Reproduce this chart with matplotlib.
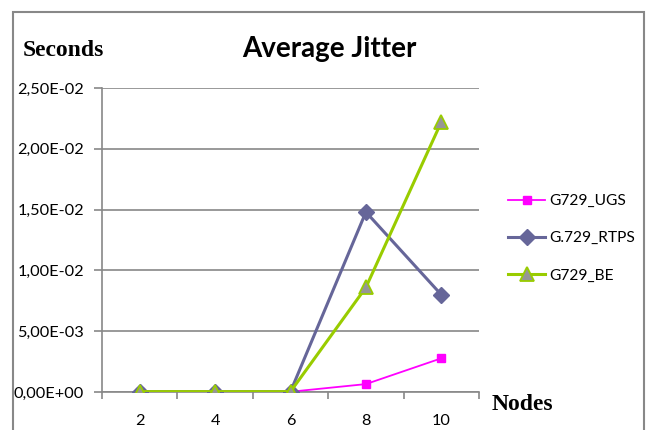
import matplotlib
matplotlib.use("Agg")
import matplotlib.pyplot as plt
from matplotlib.patches import Rectangle
from matplotlib.ticker import FixedLocator, NullFormatter

categories = ["2", "4", "6", "8", "10"]
ugs = [0.00002, 0.00002, 0.00002, 0.00065, 0.00277]
rtps = [0.00003, 0.00003, 0.00003, 0.0148, 0.0080]
be = [0.00003, 0.00003, 0.00003, 0.0086, 0.0222]
yticks = [0.0, 0.005, 0.010, 0.015, 0.020, 0.025]
ytick_labels = ["0,00E+00", "5,00E-03", "1,00E-02", "1,50E-02", "2,00E-02", "2,50E-02"]

W, H = 652, 430
fig = plt.figure(figsize=(W / 100, H / 100), dpi=100)
fig.patch.set_facecolor("white")

# outer chart frame
frame = Rectangle((13 / W, -0.05), (644 - 13) / W, (H - 12) / H + 0.05,
                  transform=fig.transFigure, fill=False,
                  edgecolor="#888888", linewidth=1.5, zorder=0)
fig.add_artist(frame)

ax = fig.add_axes([102 / W, (H - 392) / H, (479 - 102) / W, (392 - 88) / H])
x = list(range(1, len(categories) + 1))

ax.plot(x, ugs, color="#FF00FF", linewidth=1.3, marker="s", markersize=6,
        markerfacecolor="#FF00FF", markeredgecolor="#FF00FF", label="G729_UGS", zorder=3)
ax.plot(x, rtps, color="#666699", linewidth=2.2, marker="D", markersize=8,
        markerfacecolor="#666699", markeredgecolor="#666699", label="G.729_RTPS", zorder=4)
ax.plot(x, be, color="#99CC00", linewidth=2.2, marker="^", markersize=10,
        markerfacecolor="#969696", markeredgecolor="#99CC00", markeredgewidth=1.3,
        label="G729_BE", zorder=5)

ax.set_xlim(0.5, len(categories) + 0.5)
ax.set_ylim(0, 0.025)

ax.set_yticks(yticks)
ax.set_yticklabels(ytick_labels, fontfamily="Lato", fontsize=11.7)
ax.yaxis.grid(True, color="#888888", linewidth=1.2)
ax.set_axisbelow(True)

ax.xaxis.set_major_locator(FixedLocator([i + 0.5 for i in range(0, len(categories) + 1)]))
ax.xaxis.set_major_formatter(NullFormatter())
ax.xaxis.set_minor_locator(FixedLocator(x))
ax.set_xticklabels(categories, minor=True, fontfamily="Lato", fontsize=11.7)
ax.tick_params(axis="x", which="major", length=5, color="#888888", width=1.2, direction="out")
ax.tick_params(axis="x", which="minor", length=0, pad=16)
ax.tick_params(axis="y", length=6, color="#888888", width=1.2, pad=7)

for s in ["top", "right"]:
    ax.spines[s].set_visible(False)
for s in ["left", "bottom"]:
    ax.spines[s].set_color("#888888")
    ax.spines[s].set_linewidth(1.2)

fig.text(329 / W, 1 - 49 / H, "Average Jitter", fontfamily="Lato", fontweight="bold",
         fontsize=20, ha="center", va="center")
fig.text(23 / W, 1 - 50 / H, "Seconds", fontfamily="Liberation Serif", fontweight="bold",
         fontsize=17, ha="left", va="center")
fig.text(492 / W, 1 - 405 / H, "Nodes", fontfamily="Liberation Serif", fontweight="bold",
         fontsize=17, ha="left", va="center")

leg = ax.legend(loc="upper left", bbox_to_anchor=(494 / W, 1 - 180 / H),
                bbox_transform=fig.transFigure, frameon=False,
                prop={"family": "Lato", "size": 11.2}, handlelength=2.4,
                labelspacing=1.5, handletextpad=0.25)

fig.savefig("out.png", dpi=100)
